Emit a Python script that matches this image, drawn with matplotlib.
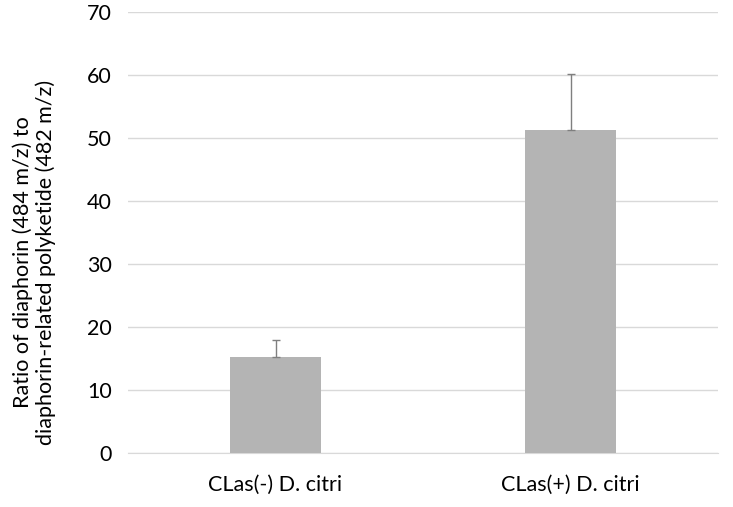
import matplotlib
matplotlib.use("Agg")
import matplotlib.pyplot as plt

categories = ["CLas(-) D. citri", "CLas(+) D. citri"]
values = [15.2, 51.3]
errors = [2.8, 8.9]
yticks = [0, 10, 20, 30, 40, 50, 60, 70]

plt.rcParams['font.family'] = ['Lato', 'DejaVu Sans']

fig = plt.figure(figsize=(7.33, 5.07), dpi=100)
ax = fig.add_axes([128/733, 1 - 453/507, 590/733, 441/507])

x = list(range(len(categories)))
ax.bar(x, values, width=0.31, color="#B4B4B4", zorder=3)
ax.errorbar(x, values, yerr=[[0]*len(errors), errors], fmt="none",
            ecolor="#7F7F7F", elinewidth=1, capsize=3, capthick=1, zorder=4)

ax.set_xlim(-0.5, 1.5)
ax.set_ylim(0, 70)
ax.set_yticks(yticks)
ax.set_yticklabels([str(t) for t in yticks], fontsize=15.5)
ax.set_xticks(x)
ax.set_xticklabels(categories, fontsize=15.5)
ax.yaxis.grid(True, color="#D9D9D9", linewidth=1, zorder=0)
for s in ["top", "right", "left"]:
    ax.spines[s].set_visible(False)
ax.spines["bottom"].set_color("#D9D9D9")
ax.tick_params(axis="both", length=0, colors="#000000")
ax.tick_params(axis="y", pad=11.5)
ax.tick_params(axis="x", pad=16)
ax.set_ylabel("Ratio of diaphorin (484 m/z) to\ndiaphorin-related polyketide (482 m/z)",
              fontsize=15.5, linespacing=1.15)
ax.yaxis.set_label_coords(-0.122, 0.433)

fig.savefig("out.png", dpi=100)
